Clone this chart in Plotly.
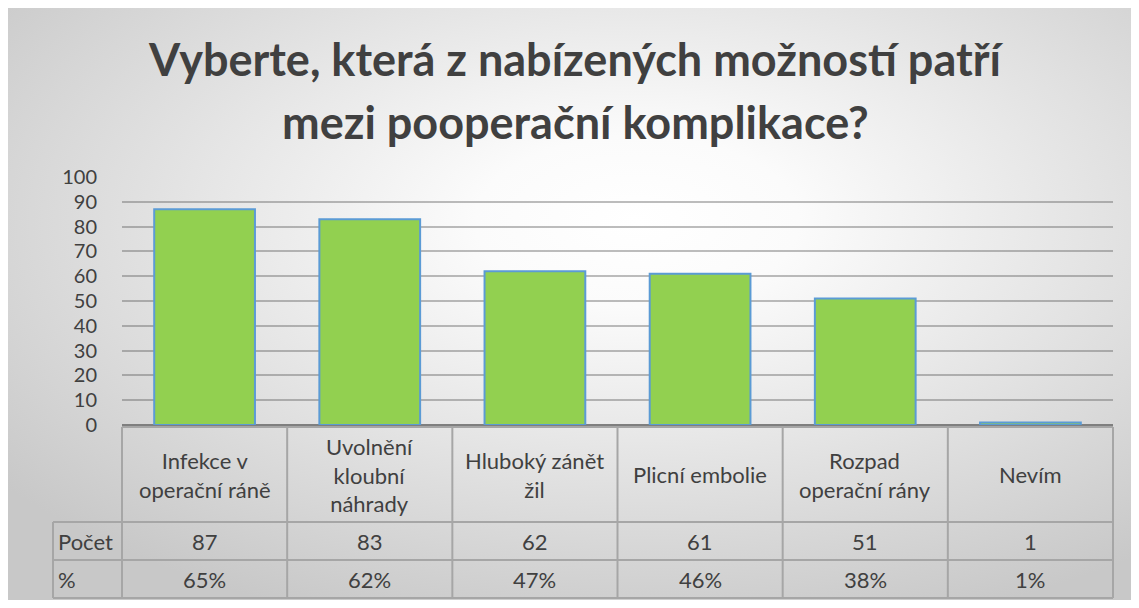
import base64

import plotly.graph_objects as go

# data
categories = [
    "Infekce v<br>operační ráně",
    "Uvolnění<br>kloubní<br>náhrady",
    "Hluboký zánět<br>žil",
    "Plicní embolie",
    "Rozpad<br>operační rány",
    "Nevím",
]
counts = [87, 83, 62, 61, 51, 1]
percents = ["65%", "62%", "47%", "46%", "38%", "1%"]
row_labels = ["Počet", "%"]
y_ticks = list(range(0, 101, 10))
title_lines = ["Vyberte, která z nabízených možností patří", "mezi pooperační komplikace?"]

FONT = "Lato, 'Open Sans', sans-serif"
TXT = "#404040"

# the page body adds an 8px margin, so figure px = screen px - 8
OFF = 8
W, H = 1123, 592
L, R, T, B = 122 - OFF, 1113 - OFF, 177 - OFF, 425 - OFF   # plot area
PW, PH = R - L, B - T


def px(x):
    return (x - L) / PW


def py(y):
    return (B - y) / PH


n = len(categories)
col_w = PW / n
rows_y = [y - OFF for y in (427, 522, 560, 598)]   # table row borders
label_left = 53 - OFF

fig = go.Figure(go.Bar(
    x=list(range(n)), y=counts,
    marker=dict(color="#92D050", line=dict(color="#5B9BD5", width=2)),
    width=0.61, hoverinfo="x+y",
))

# soft radial background like the Excel chart area
svg = (
    f'<svg xmlns="http://www.w3.org/2000/svg" width="{W}" height="{H}" preserveAspectRatio="none">'
    '<defs><radialGradient id="g" cx="0.56" cy="0.36" r="0.72">'
    '<stop offset="0" stop-color="#ffffff"/><stop offset="0.2" stop-color="#fbfbfb"/>'
    '<stop offset="1" stop-color="#c8c8c8"/></radialGradient></defs>'
    '<rect width="100%" height="100%" fill="url(#g)"/></svg>'
)
bg = "data:image/svg+xml;base64," + base64.b64encode(svg.encode()).decode()

shapes = []
line = dict(color="#A6A6A6", width=2)
for i, yy in enumerate(rows_y):
    x0 = L if i == 0 else label_left
    shapes.append(dict(type="line", xref="paper", yref="paper", x0=px(x0), x1=px(R),
                       y0=py(yy), y1=py(yy), line=line))
for c in range(n + 1):
    xx = L + c * col_w
    shapes.append(dict(type="line", xref="paper", yref="paper", x0=px(xx), x1=px(xx),
                       y0=py(rows_y[0]), y1=py(rows_y[-1]), line=line))
shapes.append(dict(type="line", xref="paper", yref="paper", x0=px(label_left), x1=px(label_left),
                   y0=py(rows_y[1]), y1=py(rows_y[-1]), line=line))

ann = []
for c in range(n):
    cx = px(L + (c + 0.5) * col_w)
    ann.append(dict(x=cx, y=py((rows_y[0] + rows_y[1]) / 2), text=categories[c]))
    ann.append(dict(x=cx, y=py((rows_y[1] + rows_y[2]) / 2), text=str(counts[c])))
    ann.append(dict(x=cx, y=py((rows_y[2] + rows_y[3]) / 2), text=percents[c]))
for r, lab in enumerate(row_labels):
    ann.append(dict(x=px(label_left + 3), y=py((rows_y[r + 1] + rows_y[r + 2]) / 2),
                    text=lab, xanchor="left"))
for a in ann:
    a.update(xref="paper", yref="paper", showarrow=False, yanchor="middle", align="center",
             font=dict(size=22, color=TXT, family=FONT))
    a.setdefault("xanchor", "center")

# two title lines, placed separately to match the wide line spacing
for text, yc in zip(title_lines, (59 - OFF, 122 - OFF)):
    ann.append(dict(x=px(575 - OFF), y=py(yc), xref="paper", yref="paper", text=f"<b>{text}</b>",
                    showarrow=False, xanchor="center", yanchor="middle",
                    font=dict(size=45, color=TXT, family=FONT)))

fig.update_layout(
    width=W, height=H,
    margin=dict(l=L, r=W - R, t=T, b=H - B, pad=0),
    paper_bgcolor="white", plot_bgcolor="rgba(0,0,0,0)",
    showlegend=False,
    bargap=0.39,
    xaxis=dict(range=[-0.5, n - 0.5], showticklabels=False, showgrid=False, zeroline=False,
               fixedrange=True),
    yaxis=dict(range=[0, 100], tickvals=y_ticks, showgrid=True,
               gridcolor="rgba(90,90,90,0.4)", gridwidth=2,
               zeroline=True, zerolinecolor="#7F7F7F", zerolinewidth=3,
               ticklabelstandoff=24, tickfont=dict(size=20, color=TXT, family=FONT),
               fixedrange=True),
    images=[dict(source=bg, xref="paper", yref="paper", x=px(0), y=py(0),
                 sizex=W / PW, sizey=H / PH, sizing="stretch",
                 xanchor="left", yanchor="top", layer="below")],
    shapes=shapes,
    annotations=ann,
)

fig.write_html("out.html")
